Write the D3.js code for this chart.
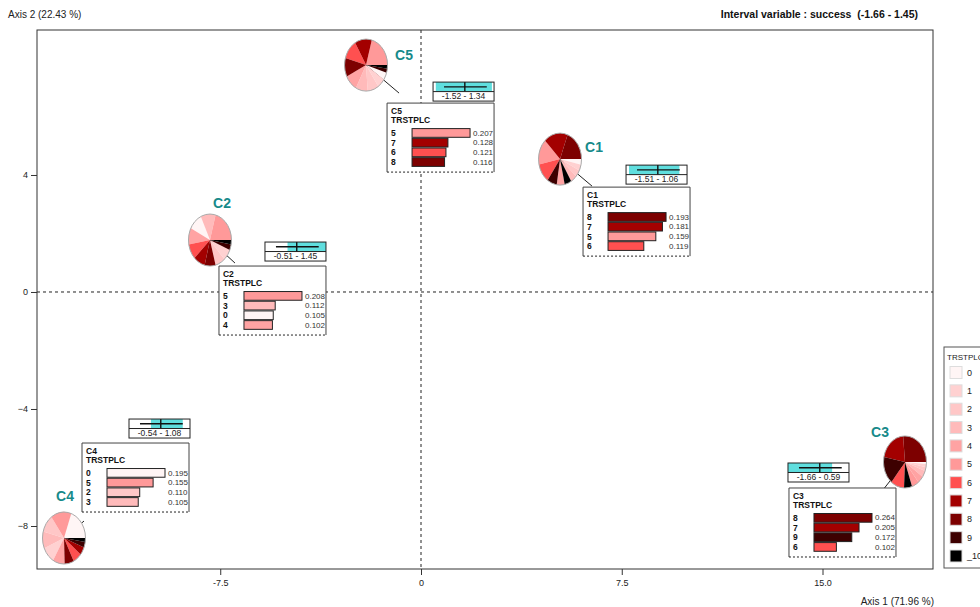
<!DOCTYPE html>
<html>
<head>
<meta charset="utf-8">
<script src="https://cdn.jsdelivr.net/npm/d3@7/dist/d3.min.js"></script>
<style>
  html, body { margin: 0; padding: 0; background: #fff; }
  text { font-family: "Liberation Sans", Arial, sans-serif; }
</style>
</head>
<body>
<svg id="chart" width="980" height="607"></svg>
<script>
// ---- data -------------------------------------------------------------
const categories = ["0", "1", "2", "3", "4", "5", "6", "7", "8", "9", "_10"];
const clusters = ["C1", "C2", "C3", "C4", "C5"];
const axis1 = [6.39, -6.95, 17.11, -12.59, -0.82];
const axis2 = [3.62, 0.99, -6.94, -7.83, 6.80];

// TRSTPLC frequencies per cluster, in category order
const freqC1 = [0.035, 0.037, 0.043, 0.048, 0.060, 0.159, 0.119, 0.181, 0.193, 0.073, 0.052];
const freqC2 = [0.105, 0.070, 0.075, 0.112, 0.102, 0.208, 0.095, 0.088, 0.082, 0.035, 0.028];
const freqC3 = [0.012, 0.020, 0.025, 0.040, 0.045, 0.055, 0.102, 0.205, 0.264, 0.172, 0.060];
const freqC4 = [0.195, 0.100, 0.110, 0.105, 0.090, 0.155, 0.065, 0.050, 0.070, 0.035, 0.025];
const freqC5 = [0.045, 0.060, 0.085, 0.090, 0.100, 0.207, 0.121, 0.128, 0.116, 0.025, 0.023];
const freqs = [freqC1, freqC2, freqC3, freqC4, freqC5];

// interval variable "success"
const successRange = [-1.66, 1.45];
const successMin = [-1.51, -0.51, -1.66, -0.54, -1.52];
const successMax = [1.06, 1.45, 0.59, 1.08, 1.34];
const successSpread = [-1.10, 1.08];
const successMean = -0.04;

const xTicks = [-7.5, 0, 7.5, 15.0];
const xTickLabels = ["-7.5", "0", "7.5", "15.0"];
const yTicks = [4, 0, -4, -8];

// ---- style / layout ----------------------------------------------------
const palette = ["#fff5f5", "#ffd1d1", "#ffc7c7", "#ffbaba", "#ffa3a3", "#ff9999",
                 "#ff5050", "#a30000", "#7d0000", "#3d0000", "#000000"];
const teal = "#178a8a";
const cyan = "#5fdede";

const frame = { left: 37, right: 933, top: 30, bottom: 569 };
// pixel offsets of each cluster's pie, box, interval gauge and name
const pieOff = [[-32, -27], [-25, -23], [26, -33], [-20, 17], [-33, -28]];
const boxOff = [[-9, 1], [-16, 3], [-90, -7], [-2, -78], [-12, 10]];
const gaugeOff = [[34, -21], [30, -21], [-91, -32], [45, -102], [34, -11]];
const nameOff = [[34, -12], [12, -37], [-25, -30], [1, -42], [38, -10]];
const boxW = 107, boxH = 69, gaugeW = 61, gaugeH = 19;
const pieRx = 21.5, pieRy = 26;

const svg = d3.select("#chart");
svg.append("rect").attr("width", 980).attr("height", 607).attr("fill", "#fff");

const x = d3.scaleLinear().domain([-14.346, 19.128]).range([frame.left, frame.right]);
const y = d3.scaleLinear().domain([-9.470, 8.957]).range([frame.bottom, frame.top]);
const color = d3.scaleOrdinal().domain(categories).range(palette);

// ---- frame, axes, reference lines --------------------------------------
svg.append("line")
  .attr("x1", x(0)).attr("x2", x(0)).attr("y1", frame.top).attr("y2", frame.bottom)
  .attr("stroke", "#222").attr("stroke-dasharray", "3,3");
svg.append("line")
  .attr("x1", frame.left).attr("x2", frame.right).attr("y1", y(0)).attr("y2", y(0))
  .attr("stroke", "#222").attr("stroke-dasharray", "3,3");

svg.append("rect")
  .attr("x", frame.left).attr("y", frame.top)
  .attr("width", frame.right - frame.left).attr("height", frame.bottom - frame.top)
  .attr("fill", "none").attr("stroke", "#333");

const gx = svg.append("g").attr("transform", `translate(0,${frame.bottom})`)
  .call(d3.axisBottom(x).tickValues(xTicks).tickSize(6).tickPadding(5)
    .tickFormat((d, i) => xTickLabels[i]));
const gy = svg.append("g").attr("transform", `translate(${frame.left},0)`)
  .call(d3.axisLeft(y).tickValues(yTicks).tickSize(6).tickPadding(3));
[gx, gy].forEach(g => {
  g.select(".domain").remove();
  g.selectAll(".tick line").attr("stroke", "#333");
  g.selectAll(".tick text").attr("font-size", 9).attr("fill", "#222")
    .attr("font-family", "Liberation Sans, Arial, sans-serif");
});

svg.append("text").attr("x", 8).attr("y", 18).attr("font-size", 10).attr("fill", "#222")
  .text("Axis 2 (22.43 %)");
svg.append("text").attr("x", 934).attr("y", 605).attr("text-anchor", "end")
  .attr("font-size", 10).attr("fill", "#222").text("Axis 1 (71.96 %)");
svg.append("text").attr("x", 918).attr("y", 18).attr("text-anchor", "end")
  .attr("font-size", 10.5).attr("font-weight", "bold").attr("fill", "#111")
  .style("white-space", "pre")
  .text(`Interval variable : success  (${successRange[0]} - ${successRange[1]})`);

// ---- clusters -----------------------------------------------------------
const pie = d3.pie().value(d => d.value)
  .startAngle(Math.PI / 2).endAngle(Math.PI / 2 - 2 * Math.PI);
const arc = d3.arc().innerRadius(0).outerRadius(1);
const fmt = d3.format(".3f");
const xg = d3.scaleLinear().domain(successRange).range([0, gaugeW]);

clusters.forEach((name, i) => {
  const ax = x(axis1[i]), ay = y(axis2[i]);
  const rows = categories.map((c, k) => ({ cat: c, value: freqs[i][k] }));
  const pcx = ax + pieOff[i][0], pcy = ay + pieOff[i][1];

  // leader from pie to the cluster point
  svg.append("line").attr("x1", pcx).attr("y1", pcy).attr("x2", ax).attr("y2", ay)
    .attr("stroke", "#222").attr("stroke-width", 1);

  // pie of category frequencies
  const gp = svg.append("g").attr("transform", `translate(${pcx},${pcy}) scale(${pieRx},${pieRy})`);
  gp.selectAll("path").data(pie(rows)).join("path")
    .attr("d", arc).attr("fill", d => color(d.data.cat));
  gp.append("ellipse").attr("rx", 1).attr("ry", 1).attr("fill", "none")
    .attr("stroke", "#aaa").attr("stroke-width", 1).attr("vector-effect", "non-scaling-stroke");

  svg.append("text").attr("x", pcx + nameOff[i][0]).attr("y", pcy + nameOff[i][1])
    .attr("text-anchor", "middle").attr("dominant-baseline", "central")
    .attr("font-size", 14).attr("font-weight", "bold").attr("fill", teal).text(name);

  // interval gauge
  const gg = svg.append("g").attr("transform", `translate(${ax + gaugeOff[i][0]},${ay + gaugeOff[i][1]})`);
  gg.append("rect").attr("width", gaugeW).attr("height", gaugeH).attr("fill", "#fff");
  gg.append("rect").attr("x", xg(successMin[i])).attr("y", 0)
    .attr("width", xg(successMax[i]) - xg(successMin[i])).attr("height", gaugeH / 2)
    .attr("fill", cyan);
  gg.append("line").attr("x1", xg(successSpread[0])).attr("x2", xg(successSpread[1]))
    .attr("y1", gaugeH / 4).attr("y2", gaugeH / 4).attr("stroke", "#111").attr("stroke-width", 1.4);
  gg.append("line").attr("x1", xg(successMean)).attr("x2", xg(successMean))
    .attr("y1", 0).attr("y2", gaugeH / 2).attr("stroke", "#111").attr("stroke-width", 1.4);
  gg.append("line").attr("x1", 0).attr("x2", gaugeW).attr("y1", gaugeH / 2).attr("y2", gaugeH / 2)
    .attr("stroke", "#222");
  gg.append("rect").attr("width", gaugeW).attr("height", gaugeH).attr("fill", "none").attr("stroke", "#222");
  gg.append("text").attr("x", gaugeW / 2).attr("y", gaugeH * 0.75).attr("text-anchor", "middle")
    .attr("dominant-baseline", "central").attr("font-size", 8.5).attr("fill", "#222")
    .text(`${successMin[i]} - ${successMax[i]}`);

  // box with the four most frequent categories
  const top4 = rows.slice().sort((a, b) => b.value - a.value).slice(0, 4);
  const bx = ax + boxOff[i][0], by = ay + boxOff[i][1];
  const gb = svg.append("g").attr("transform", `translate(${bx},${by})`);
  gb.append("rect").attr("width", boxW).attr("height", boxH).attr("fill", "#fff");
  gb.append("path").attr("d", `M0,${boxH}V0H${boxW}V${boxH}`).attr("fill", "none").attr("stroke", "#444");
  gb.append("line").attr("x1", 0).attr("x2", boxW).attr("y1", boxH).attr("y2", boxH)
    .attr("stroke", "#222").attr("stroke-dasharray", "2,2");
  gb.append("text").attr("x", 4).attr("y", 11).attr("font-size", 8.5).attr("font-weight", "bold")
    .attr("fill", "#111").text(name);
  gb.append("text").attr("x", 4).attr("y", 20).attr("font-size", 8.5).attr("font-weight", "bold")
    .attr("fill", "#111").text("TRSTPLC");
  const bw = d3.scaleLinear().domain([0, top4[0].value]).range([0, 58]);
  const rowY = d3.scaleBand().domain(d3.range(4)).range([25, 25 + 4 * 9.7]);
  top4.forEach((r, k) => {
    const ry = rowY(k);
    gb.append("rect").attr("x", 25).attr("y", ry + 0.5).attr("width", bw(r.value))
      .attr("height", rowY.bandwidth() - 1).attr("fill", color(r.cat))
      .attr("stroke", "#222").attr("stroke-width", 1);
    gb.append("text").attr("x", 4).attr("y", ry + 5).attr("dominant-baseline", "central")
      .attr("font-size", 8.5).attr("font-weight", "bold").attr("fill", "#111").text(r.cat);
    gb.append("text").attr("x", 86).attr("y", ry + 5).attr("dominant-baseline", "central")
      .attr("font-size", 8).attr("fill", "#333").text(fmt(r.value));
  });
});

// ---- legend -------------------------------------------------------------
const lg = svg.append("g").attr("transform", "translate(944,347)");
lg.append("rect").attr("width", 60).attr("height", 221).attr("fill", "#fff").attr("stroke", "#555");
lg.append("text").attr("x", 3).attr("y", 13).attr("font-size", 8).attr("fill", "#222").text("TRSTPLC");
const ly = d3.scalePoint().domain(categories).range([25.5, 209]);
categories.forEach(c => {
  lg.append("rect").attr("x", 6).attr("y", ly(c) - 6).attr("width", 12).attr("height", 12)
    .attr("fill", color(c)).attr("stroke", "#ddd");
  lg.append("text").attr("x", 23).attr("y", ly(c)).attr("dominant-baseline", "central")
    .attr("font-size", 9).attr("fill", "#222").text(c);
});
</script>
</body>
</html>
